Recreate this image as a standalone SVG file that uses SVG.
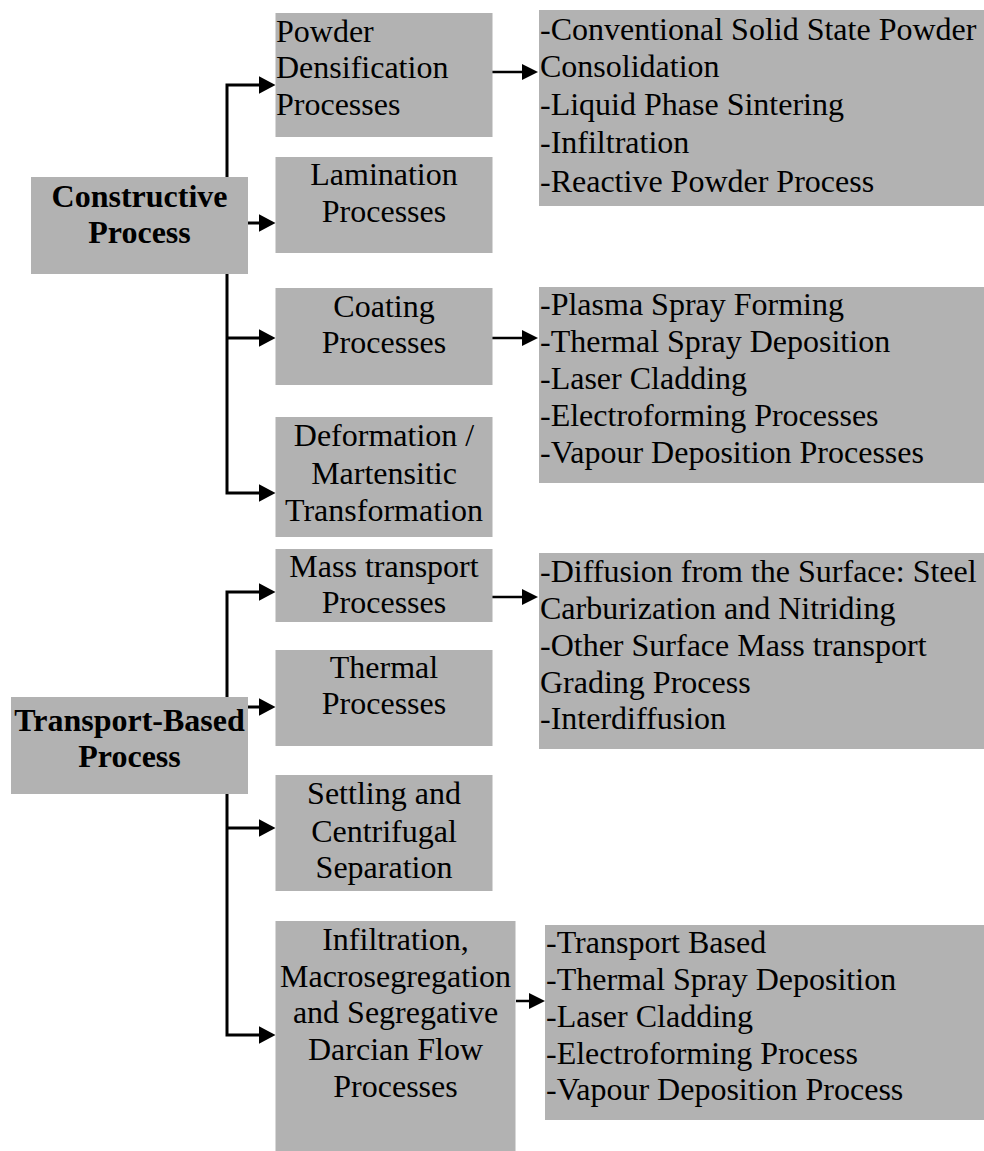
<svg xmlns="http://www.w3.org/2000/svg" width="984" height="1151" viewBox="0 0 984 1151">
<style>
.box{fill:#b2b2b2}
.t{font-family:"Liberation Serif","Times New Roman",serif;font-size:32px;fill:#000}
.b{font-weight:bold}
.c{text-anchor:middle}
.conn{fill:none;stroke:#000;stroke-width:3}
.conn2{fill:none;stroke:#000;stroke-width:2.5}
</style>
<defs>
<marker id="ah" markerUnits="userSpaceOnUse" markerWidth="17" markerHeight="18" refX="7" refY="9" orient="auto"><path d="M0,0 L17,9 L0,18 Z" fill="#000"/></marker>
<marker id="ah2" markerUnits="userSpaceOnUse" markerWidth="16" markerHeight="16" refX="6" refY="8" orient="auto"><path d="M0,0 L16,8 L0,16 Z" fill="#000"/></marker>
</defs>
<rect width="984" height="1151" fill="#fff"/>
<g id="connectors">
<path class="conn" d="M227,177 V85 H265.5" marker-end="url(#ah)"/>
<path class="conn" d="M248,223 H265.5" marker-end="url(#ah)"/>
<path class="conn" d="M227,274 V493 H265.5" marker-end="url(#ah)"/>
<path class="conn" d="M227,338 H265.5" marker-end="url(#ah)"/>
<path class="conn" d="M227,697 V592 H265.5" marker-end="url(#ah)"/>
<path class="conn" d="M248,707 H265.5" marker-end="url(#ah)"/>
<path class="conn" d="M227,794 V1035 H265.5" marker-end="url(#ah)"/>
<path class="conn" d="M227,828 H265.5" marker-end="url(#ah)"/>
<path class="conn2" d="M492,72 H528" marker-end="url(#ah2)"/>
<path class="conn2" d="M492,338 H528" marker-end="url(#ah2)"/>
<path class="conn2" d="M492,597 H528" marker-end="url(#ah2)"/>
<path class="conn2" d="M516,1001 H535" marker-end="url(#ah2)"/>
</g>
<g id="constructive">
<rect class="box" x="31" y="177" width="217" height="97"/>
<text class="t b c" x="139.5" y="207">Constructive</text>
<text class="t b c" x="139.5" y="243">Process</text>
</g>
<g id="powder">
<rect class="box" x="275.5" y="13" width="217" height="124"/>
<text class="t" x="276" y="42">Powder</text>
<text class="t" x="276" y="78">Densification</text>
<text class="t" x="276" y="115">Processes</text>
</g>
<g id="lamination">
<rect class="box" x="275.5" y="157" width="217" height="96"/>
<text class="t c" x="384" y="185">Lamination</text>
<text class="t c" x="384" y="222">Processes</text>
</g>
<g id="coating">
<rect class="box" x="275.5" y="288" width="217" height="97"/>
<text class="t c" x="384" y="317">Coating</text>
<text class="t c" x="384" y="353">Processes</text>
</g>
<g id="deformation">
<rect class="box" x="275.5" y="417" width="217" height="120"/>
<text class="t c" x="384" y="446">Deformation /</text>
<text class="t c" x="384" y="484">Martensitic</text>
<text class="t c" x="384" y="521">Transformation</text>
</g>
<g id="list-powder">
<rect class="box" x="539" y="10" width="445" height="196"/>
<text class="t" x="540" y="40">-Conventional Solid State Powder</text>
<text class="t" x="540" y="77">Consolidation</text>
<text class="t" x="540" y="115">-Liquid Phase Sintering</text>
<text class="t" x="540" y="153">-Infiltration</text>
<text class="t" x="540" y="192">-Reactive Powder Process</text>
</g>
<g id="list-coating">
<rect class="box" x="539" y="287" width="445" height="196"/>
<text class="t" x="540" y="315">-Plasma Spray Forming</text>
<text class="t" x="540" y="352">-Thermal Spray Deposition</text>
<text class="t" x="540" y="389">-Laser Cladding</text>
<text class="t" x="540" y="426">-Electroforming Processes</text>
<text class="t" x="540" y="463">-Vapour Deposition Processes</text>
</g>
<g id="transport">
<rect class="box" x="11" y="697" width="237" height="97"/>
<text class="t b c" x="129.5" y="731">Transport-Based</text>
<text class="t b c" x="129.5" y="767">Process</text>
</g>
<g id="mass">
<rect class="box" x="275.5" y="549" width="217" height="73"/>
<text class="t c" x="384" y="577">Mass transport</text>
<text class="t c" x="384" y="613">Processes</text>
</g>
<g id="thermal">
<rect class="box" x="275.5" y="650" width="217" height="96"/>
<text class="t c" x="384" y="678">Thermal</text>
<text class="t c" x="384" y="714">Processes</text>
</g>
<g id="settling">
<rect class="box" x="275.5" y="775" width="217" height="116"/>
<text class="t c" x="384" y="804">Settling and</text>
<text class="t c" x="384" y="842">Centrifugal</text>
<text class="t c" x="384" y="878">Separation</text>
</g>
<g id="infiltration">
<rect class="box" x="275.5" y="921" width="240" height="235"/>
<text class="t c" x="395.5" y="950">Infiltration,</text>
<text class="t c" x="395.5" y="987">Macrosegregation</text>
<text class="t c" x="395.5" y="1023">and Segregative</text>
<text class="t c" x="395.5" y="1060">Darcian Flow</text>
<text class="t c" x="395.5" y="1097">Processes</text>
</g>
<g id="list-mass">
<rect class="box" x="539" y="553" width="445" height="196"/>
<text class="t" x="540" y="582">-Diffusion from the Surface: Steel</text>
<text class="t" x="540" y="619">Carburization and Nitriding</text>
<text class="t" x="540" y="656">-Other Surface Mass transport</text>
<text class="t" x="540" y="693">Grading Process</text>
<text class="t" x="540" y="729">-Interdiffusion</text>
</g>
<g id="list-infiltration">
<rect class="box" x="545" y="925" width="439" height="195"/>
<text class="t" x="546" y="953">-Transport Based</text>
<text class="t" x="546" y="990">-Thermal Spray Deposition</text>
<text class="t" x="546" y="1027">-Laser Cladding</text>
<text class="t" x="546" y="1064">-Electroforming Process</text>
<text class="t" x="546" y="1100">-Vapour Deposition Process</text>
</g>
</svg>
